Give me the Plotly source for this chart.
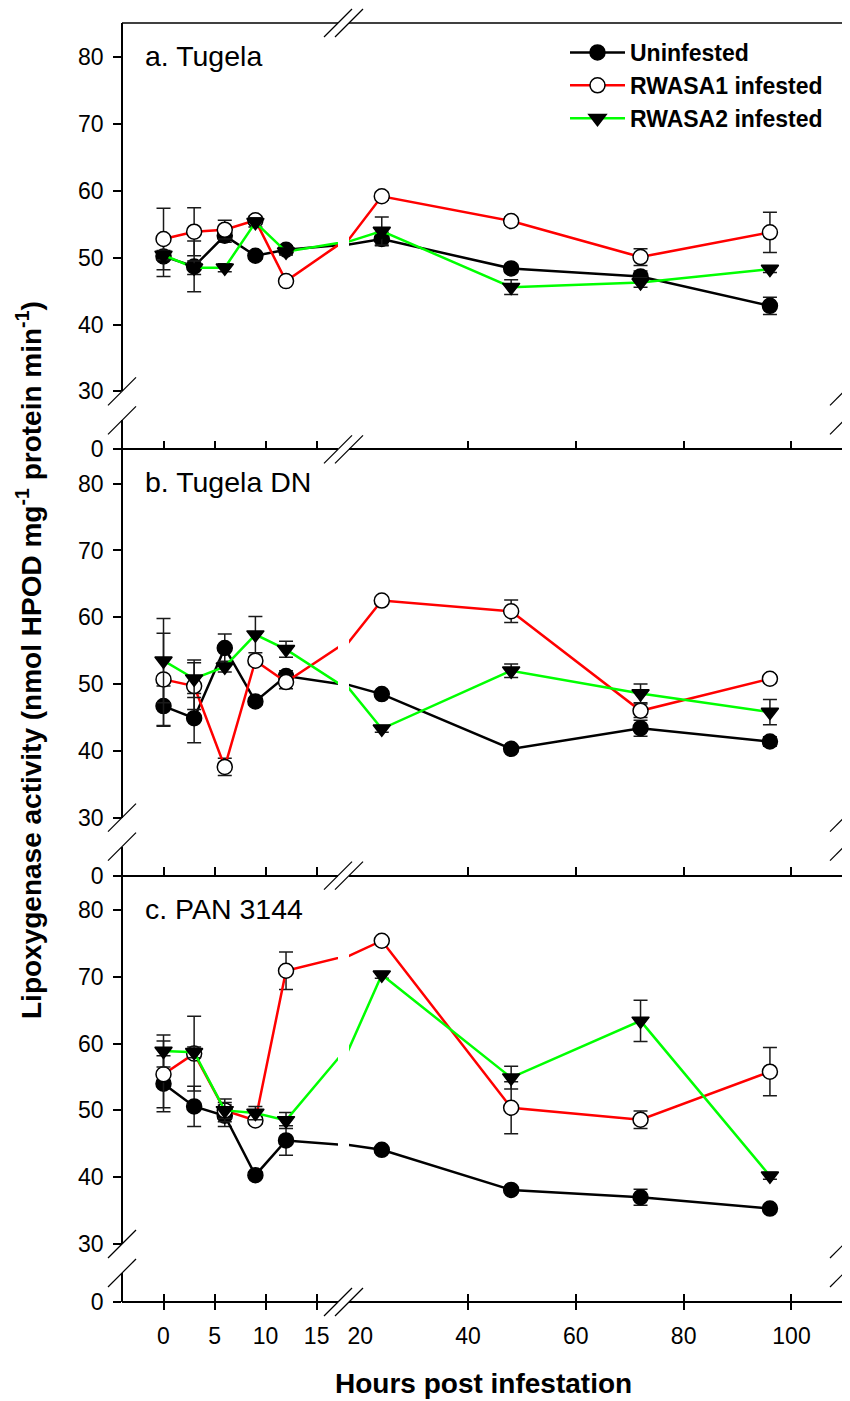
import plotly.graph_objects as go

# ---------------- data ----------------
hours = [0, 3, 6, 9, 12, 24, 48, 72, 96]
panel_labels = ["a. Tugela", "b. Tugela DN", "c. PAN 3144"]
series_names = ["Uninfested", "RWASA1 infested", "RWASA2 infested"]

unin_a = [50.2, 48.7, 53.3, 50.3, 51.2, 52.8, 48.4, 47.2, 42.8]
unin_a_err = [3.0, 3.8, 1.0, 0.5, 0.6, 1.0, 0.6, 0.8, 1.3]
r1_a = [52.8, 53.9, 54.2, 55.6, 46.5, 59.2, 55.5, 50.1, 53.8]
r1_a_err = [4.6, 3.6, 1.4, 0.6, 0.5, 0.6, 0.6, 1.25, 3.0]
r2_a = [50.4, 48.5, 48.5, 55.3, 50.9, 54.0, 45.6, 46.3, 48.3]
r2_a_err = [0.7, 1.0, 0.6, 0.7, 0.5, 2.1, 1.1, 0.7, 0.5]

unin_b = [46.7, 44.9, 55.4, 47.4, 51.2, 48.5, 40.3, 43.4, 41.4]
unin_b_err = [3.0, 3.7, 2.1, 0.5, 0.8, 0.5, 0.5, 1.2, 0.7]
r1_b = [50.7, 49.7, 37.6, 53.5, 50.3, 62.5, 60.9, 46.0, 50.8]
r1_b_err = [6.9, 3.5, 1.3, 0.6, 1.0, 0.5, 1.7, 1.0, 0.6]
r2_b = [53.5, 50.8, 52.6, 57.4, 55.2, 43.3, 52.0, 48.6, 45.8]
r2_b_err = [6.3, 2.8, 0.8, 2.7, 1.2, 0.5, 1.0, 1.4, 1.9]

unin_c = [54.0, 50.6, 49.2, 40.3, 45.5, 44.1, 38.1, 37.0, 35.3]
unin_c_err = [4.2, 3.0, 1.6, 0.5, 2.2, 0.5, 0.5, 1.2, 0.5]
r1_c = [55.4, 58.5, 50.0, 48.5, 70.9, 75.4, 50.4, 48.6, 55.8]
r1_c_err = [5.0, 5.6, 1.7, 0.5, 2.8, 0.5, 3.9, 1.3, 3.6]
r2_c = [58.9, 58.7, 50.0, 49.6, 48.5, 70.3, 54.9, 63.4, 40.2]
r2_c_err = [2.4, 0.8, 1.2, 1.0, 1.2, 0.5, 1.7, 3.1, 0.5]

y_ticks_upper = [30, 40, 50, 60, 70, 80]
y_ticks_lower = [0]
x_ticks_low = [0, 5, 10, 15]
x_ticks_high = [40, 60, 80, 100]
x_labels_high = [20, 40, 60, 80, 100]

panels = [
    [(unin_a, unin_a_err), (r1_a, r1_a_err), (r2_a, r2_a_err)],
    [(unin_b, unin_b_err), (r1_b, r1_b_err), (r2_b, r2_b_err)],
    [(unin_c, unin_c_err), (r1_c, r1_c_err), (r2_c, r2_c_err)],
]

# ---------------- styles / geometry ----------------
FONT = "Liberation Sans, Arial, Helvetica, sans-serif"
line_colors = ["#000000", "#FF0000", "#00FF00"]
marker_symbols = ["circle", "circle", "triangle-down"]
marker_fills = ["#000000", "#FFFFFF", "#000000"]

OFF = 8                      # page body margin
WIN_W, WIN_H = 850, 1401
W, H = WIN_W - OFF, WIN_H - OFF
PLOT_L, PLOT_R, PLOT_T, PLOT_B = 122, 844, 23, 1302   # in window pixels
L = PLOT_L - OFF
R = W - (PLOT_R - OFF)
T = PLOT_T - OFF
B = H - (PLOT_B - OFF)
PW = PLOT_R - PLOT_L
PH = PLOT_B - PLOT_T
panel_h = PH / 3.0
PXU = 6.68  # px per y unit

def px2x(px):   # window px -> paper x
    return (px - PLOT_L) / PW

def py2y(py):   # window px -> paper y
    return (PLOT_B - py) / PH

xl_dom = [0, px2x(338)]
xh_dom = [px2x(349), 1]
xl_rng = [-4.065, 17.09]
xh_rng = [17.92, 109.74]

low_h = 29.0
gap_top = 58.0
up_rng = [30, 30 + (panel_h - gap_top) / PXU]
low_rng = [0, low_h / PXU]

fig = go.Figure()
layout = {}
shapes = []
annotations = []

axis_common = dict(showgrid=False, zeroline=False, linecolor="black", linewidth=1.5,
                   tickcolor="black", tickwidth=1.5,
                   tickfont=dict(family=FONT, size=23, color="black"))

def ax_key(letter, n):
    return (letter + "axis") if n == 1 else (letter + "axis" + str(n))

def ax_ref(letter, n):
    return letter if n == 1 else letter + str(n)

for p in range(3):
    k = 2 - p
    base = k * panel_h
    low_dom = [base / PH, (base + low_h) / PH]
    up_dom = [(base + gap_top) / PH, (base + panel_h) / PH]
    yU, yD = 2 * p + 1, 2 * p + 2
    xL, xH = 2 * p + 1, 2 * p + 2
    bottom_paper = low_dom[0]

    layout[ax_key("y", yU)] = dict(axis_common, domain=up_dom, range=up_rng, anchor="free",
                                   position=0, showline=True, ticks="outside", ticklen=8,
                                   tickvals=y_ticks_upper, ticklabelstandoff=5)
    layout[ax_key("y", yD)] = dict(axis_common, domain=low_dom, range=low_rng, anchor="free",
                                   position=0, showline=True, ticks="outside", ticklen=8,
                                   tickvals=y_ticks_lower, ticklabelstandoff=5)
    last = (p == 2)
    layout[ax_key("x", xL)] = dict(axis_common, domain=xl_dom, range=xl_rng, anchor="free",
                                   position=bottom_paper, showline=True,
                                   ticks="outside" if last else "inside", ticklen=7 if last else 8,
                                   tickvals=x_ticks_low, showticklabels=False)
    layout[ax_key("x", xH)] = dict(axis_common, domain=xh_dom, range=xh_rng, anchor="free",
                                   position=bottom_paper, showline=True,
                                   ticks="outside" if last else "inside", ticklen=7 if last else 8,
                                   tickvals=x_ticks_high, showticklabels=False)

    # data traces, drawn on both halves of the broken x axis
    for s in range(3):
        vals, err = panels[p][s]
        for xa in (xL, xH):
            fig.add_trace(go.Scatter(
                x=hours, y=vals, name=series_names[s], legendgroup=series_names[s],
                showlegend=(p == 0 and xa == xL),
                mode="lines+markers",
                line=dict(color=line_colors[s], width=2.5),
                marker=dict(symbol=marker_symbols[s], size=15, color=marker_fills[s],
                            line=dict(color="black", width=1.5)),
                error_y=dict(type="data", array=err, visible=True, color="#1a1a1a",
                             thickness=1.5, width=7),
                xaxis=ax_ref("x", xa), yaxis=ax_ref("y", yU), cliponaxis=True,
                hoverinfo="x+y"))
    # empty traces to register the lower (0) segment subplots
    for xa in (xL, xH):
        fig.add_trace(go.Scatter(x=[None], y=[None], showlegend=False, hoverinfo="skip",
                                 xaxis=ax_ref("x", xa), yaxis=ax_ref("y", yD)))

    # frame: top lines and right lines
    top_py = PLOT_T + p * panel_h
    bot_py = PLOT_T + (p + 1) * panel_h
    up_bot_py = bot_py - gap_top
    low_top_py = bot_py - low_h
    for (x0, x1) in ((xl_dom[0], xl_dom[1]), (xh_dom[0], xh_dom[1])):
        shapes.append(dict(type="line", xref="paper", yref="paper", x0=x0, x1=x1,
                           y0=py2y(top_py), y1=py2y(top_py), line=dict(color="black", width=1.5)))
    shapes.append(dict(type="line", xref="paper", yref="paper", x0=1, x1=1,
                       y0=py2y(top_py), y1=py2y(up_bot_py), line=dict(color="black", width=1.5)))
    shapes.append(dict(type="line", xref="paper", yref="paper", x0=1, x1=1,
                       y0=py2y(low_top_py), y1=py2y(bot_py), line=dict(color="black", width=1.5)))
    # y-break slashes (left and right)
    for xc in (PLOT_L, PLOT_R):
        for yc in (up_bot_py, low_top_py):
            shapes.append(dict(type="line", xref="paper", yref="paper",
                               x0=px2x(xc - 14), x1=px2x(xc + 14),
                               y0=py2y(yc + 14), y1=py2y(yc - 14),
                               line=dict(color="black", width=1.2)))
    # panel label
    annotations.append(dict(text=panel_labels[p], xref="paper", yref="paper",
                            x=px2x(143), y=py2y(top_py + 33), xanchor="left", yanchor="middle",
                            showarrow=False, font=dict(family=FONT, size=28.5, color="black")))

# x-break slashes at every horizontal frame line
for j in range(4):
    yb = PLOT_T + j * panel_h
    for xc in (338, 349):
        shapes.append(dict(type="line", xref="paper", yref="paper",
                           x0=px2x(xc - 14), x1=px2x(xc + 14),
                           y0=py2y(yb + 14), y1=py2y(yb - 14),
                           line=dict(color="black", width=1.2)))

# bottom panel extra axes: inside ticks and tick labels
STAND = 18
layout["xaxis7"] = dict(axis_common, overlaying="x5", domain=xl_dom, range=xl_rng, anchor="free",
                        position=0, showline=False, ticks="inside", ticklen=8,
                        tickvals=x_ticks_low, showticklabels=True, ticklabelstandoff=STAND)
layout["xaxis8"] = dict(axis_common, overlaying="x6", domain=xh_dom, range=xh_rng, anchor="free",
                        position=0, showline=False, ticks="inside", ticklen=8,
                        tickvals=x_ticks_high, showticklabels=False)
layout["xaxis9"] = dict(axis_common, overlaying="x6", domain=xh_dom, range=xh_rng, anchor="free",
                        position=0, showline=False, ticks="",
                        tickvals=x_labels_high, showticklabels=True, ticklabelstandoff=STAND)
for xa in ("x7", "x8", "x9"):
    fig.add_trace(go.Scatter(x=[None], y=[None], showlegend=False, hoverinfo="skip",
                             xaxis=xa, yaxis="y6"))

# axis titles
annotations.append(dict(text="<b>Hours post infestation</b>", xref="paper", yref="paper",
                        x=0.5, y=py2y(1383), xanchor="center", yanchor="middle", showarrow=False,
                        font=dict(family=FONT, size=28, color="black")))
annotations.append(dict(text="<b>Lipoxygenase activity (nmol HPOD mg<sup>-1</sup> protein min<sup>-1</sup>)</b>",
                        xref="paper", yref="paper", x=px2x(29), y=py2y(660), textangle=-90,
                        xanchor="center", yanchor="middle", showarrow=False,
                        font=dict(family=FONT, size=28, color="black")))

fig.update_layout(
    width=W, height=H,
    margin=dict(l=L, r=R, t=T, b=B),
    paper_bgcolor="white", plot_bgcolor="white",
    font=dict(family=FONT, color="black"),
    showlegend=True,
    legend=dict(x=px2x(565), y=py2y(31), xanchor="left", yanchor="top",
                bgcolor="rgba(0,0,0,0)", itemwidth=55, tracegroupgap=0,
                font=dict(family=FONT, size=23, color="black", weight="bold")),
    shapes=shapes, annotations=annotations,
    **layout,
)

fig.write_html("out.html")
